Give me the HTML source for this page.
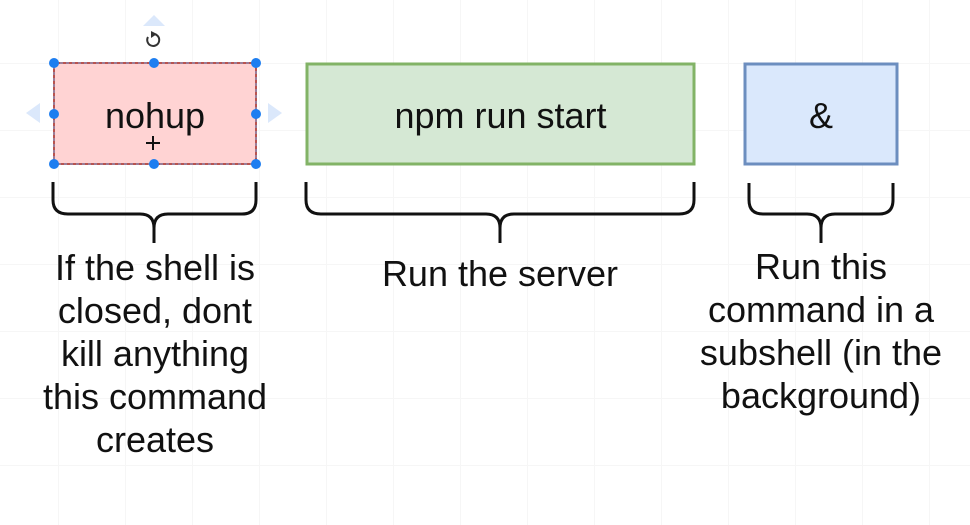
<!DOCTYPE html>
<html><head><style>
body{margin:0;width:970px;height:525px;overflow:hidden;background:#fff;font-family:"Liberation Sans",sans-serif;
background-image:linear-gradient(#f6f6f6 1px,transparent 1px),linear-gradient(90deg,#f6f6f6 1px,transparent 1px);
background-size:67px 67px;background-position:58px 63px;position:relative}
.t{position:absolute;text-align:center;font-size:36px;color:#111;line-height:43px;white-space:nowrap}
</style></head><body>
<svg width="970" height="525" style="position:absolute;left:0;top:0">
<polygon points="143,26 165,26 154,15" fill="#dbe8fb"/>
<polygon points="26,113 40,103 40,123" fill="#dbe8fb"/>
<polygon points="282,113 268,103 268,123" fill="#dbe8fb"/>
<path d="M148,37 a6,6 0 1 0 6,-3" fill="none" stroke="#333" stroke-width="2"/>
<polygon points="151,31 157,34 151,38" fill="#333"/>
<rect x="54" y="63" width="202" height="101" fill="#ffd3d3" stroke="#b85450" stroke-width="2"/>
<rect x="54" y="63" width="202" height="101" fill="none" stroke="#7ea6e0" stroke-width="1" stroke-dasharray="3,3"/>
<rect x="307" y="64" width="387" height="100" fill="#d5e8d4" stroke="#82b366" stroke-width="3"/>
<rect x="745" y="64" width="152" height="100" fill="#dae8fc" stroke="#6c8ebf" stroke-width="3"/>
<g fill="#1e7ef0">
<circle cx="54" cy="63" r="5"/><circle cx="154" cy="63" r="5"/><circle cx="256" cy="63" r="5"/>
<circle cx="54" cy="114" r="5"/><circle cx="256" cy="114" r="5"/>
<circle cx="54" cy="164" r="5"/><circle cx="154" cy="164" r="5"/><circle cx="256" cy="164" r="5"/>
</g>
<g fill="none" stroke="#111" stroke-width="3">
<path d="M53,182 V200 Q53,214 68,214 H140 Q154,214 154,228 V243 M154,228 Q154,214 168,214 H242 Q256,214 256,200 V182"/>
<path d="M306,182 V200 Q306,214 321,214 H486 Q500,214 500,228 V243 M500,228 Q500,214 514,214 H679 Q694,214 694,200 V182"/>
<path d="M749,183 V200 Q749,214 763,214 H807 Q821,214 821,228 V243 M821,228 Q821,214 835,214 H879 Q893,214 893,200 V183"/>
</g>
<path d="M146,143 h14 M153,136 v14" stroke="#111" stroke-width="2"/>
</svg>
<div class="t" style="left:54px;top:94px;width:202px">nohup</div>
<div class="t" style="left:307px;top:94px;width:387px">npm run start</div>
<div class="t" style="left:745px;top:94px;width:152px">&amp;</div>
<div class="t" style="left:10px;top:246px;width:290px">If the shell is<br>closed, dont<br>kill anything<br>this command<br>creates</div>
<div class="t" style="left:330px;top:252px;width:340px">Run the server</div>
<div class="t" style="left:680px;top:245px;width:282px">Run this<br>command in a<br>subshell (in the<br>background)</div>
</body></html>
